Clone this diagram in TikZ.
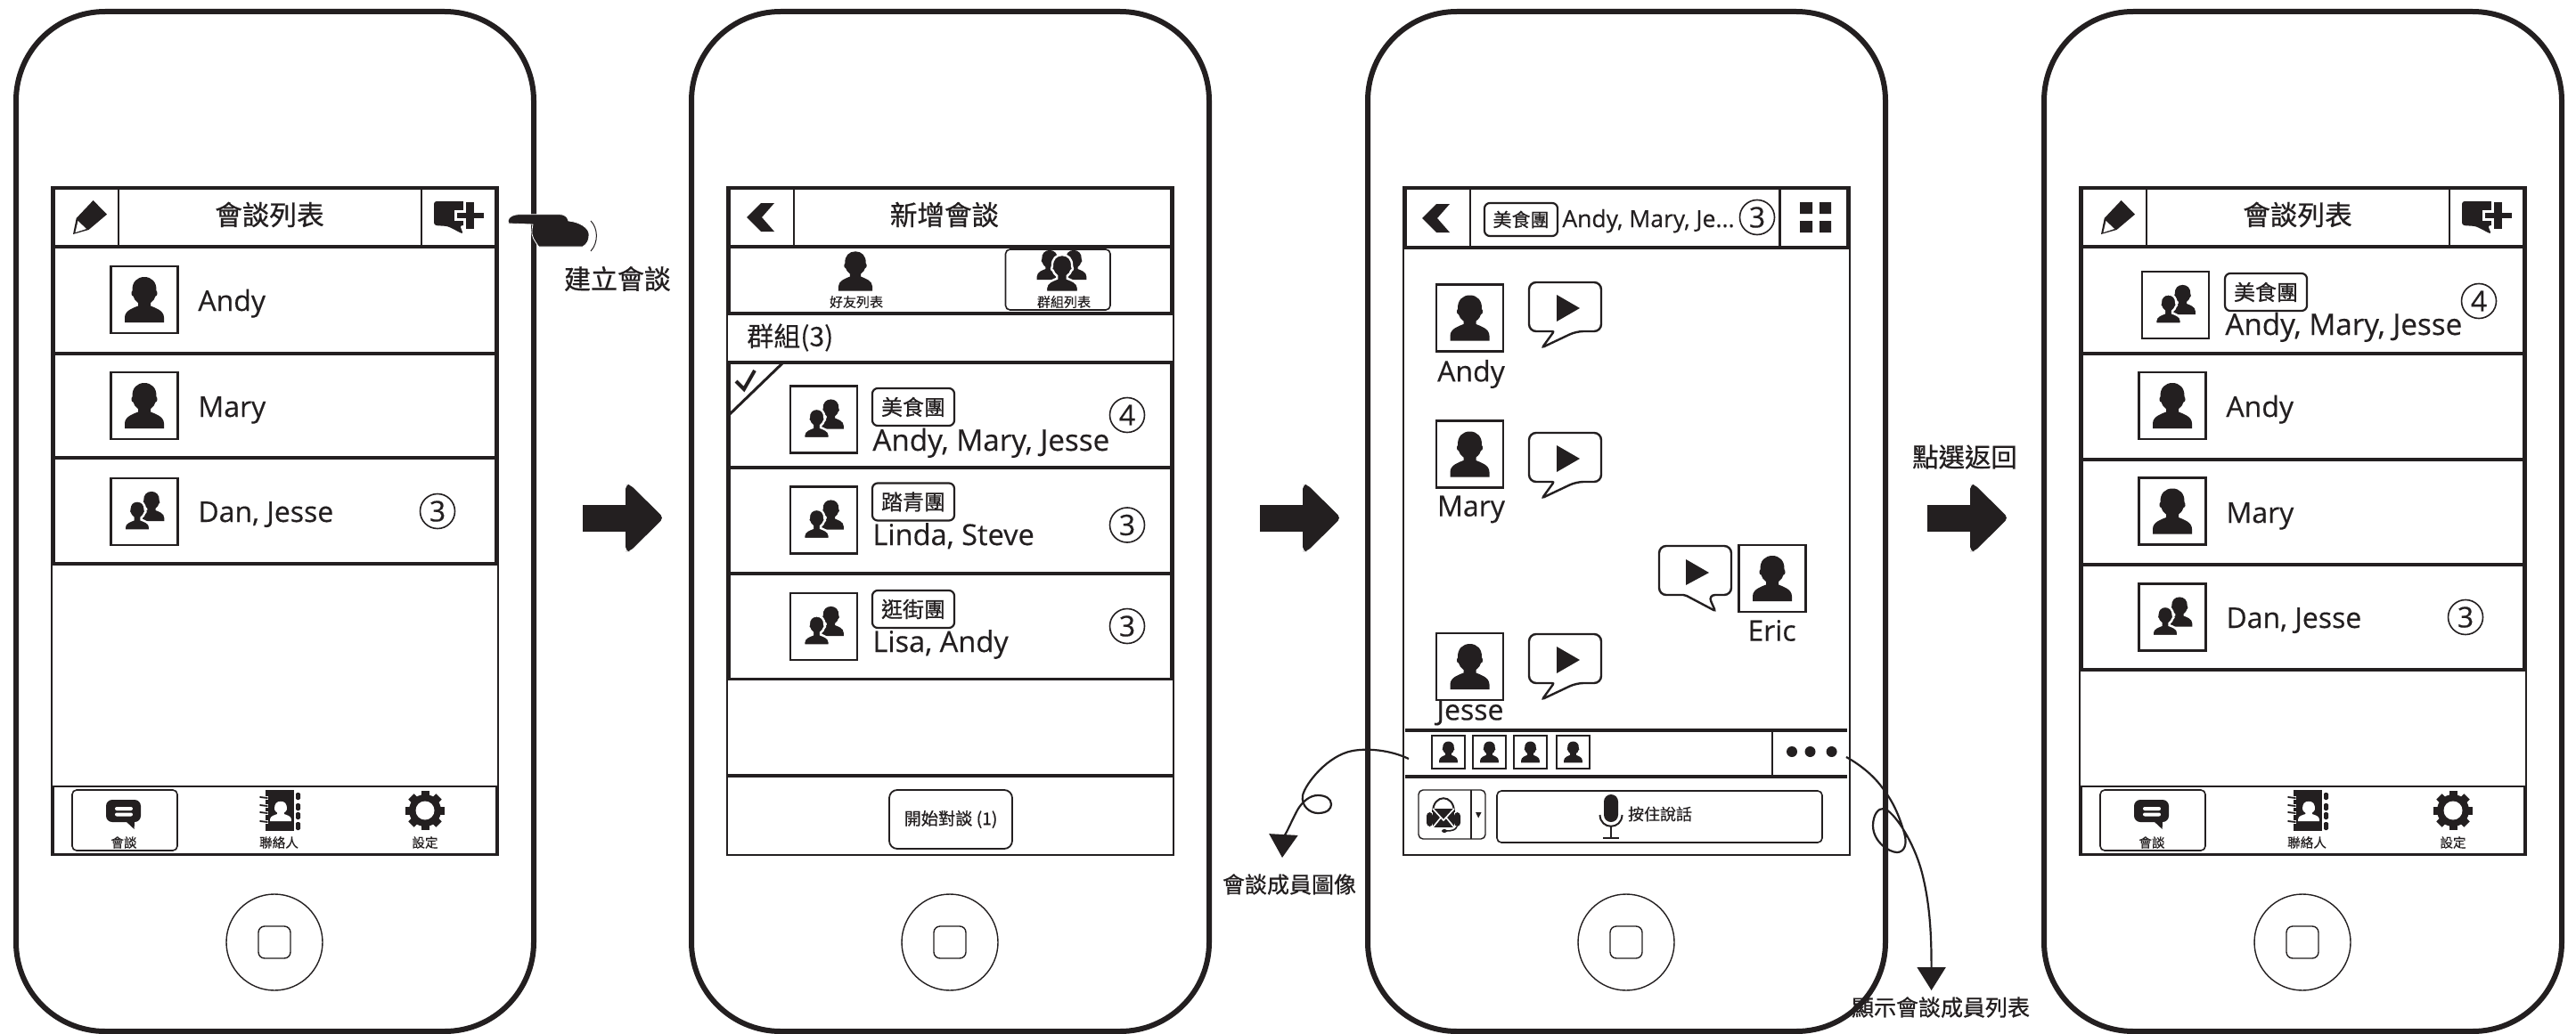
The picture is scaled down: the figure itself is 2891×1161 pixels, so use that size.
\documentclass[tikz,border=0pt]{standalone}
\usepackage{fontspec}
\setmainfont[FakeBold=0.35]{Open Sans}
\newfontfamily\cjk[FakeBold=0.8]{Noto Sans CJK TC}
\newfontfamily\cjklight[FakeBold=0.2]{Noto Sans CJK TC}
\usetikzlibrary{arrows.meta}
\definecolor{ink}{HTML}{231F20}
\tikzset{
  phonebody/.style={draw=ink,line width=3pt,rounded corners=50pt},
  thinline/.style={draw=ink,line width=.7pt},
  heavy/.style={draw=ink,line width=1.7pt},
  midline/.style={draw=ink,line width=1.1pt},
  avatarbox/.style={draw=ink,line width=1.4pt,fill=white,minimum width=37.5pt,minimum height=37.5pt,inner sep=0pt},
  smallbox/.style={draw=ink,line width=1.3pt,fill=white,minimum width=18.5pt,minimum height=18.5pt,inner sep=0pt},
  tagbox/.style={draw=ink,line width=1.1pt,rounded corners=3pt,minimum width=46pt,minimum height=21pt,inner sep=0pt,font=\cjk\fontsize{12}{12}\selectfont,text=ink},
  tagsmall/.style={tagbox,minimum width=41pt,minimum height=18.5pt,font=\cjk\fontsize{10.5}{10.5}\selectfont},
  pname/.style={font=\fontsize{16}{16}\selectfont,text=ink,inner sep=0pt},
  groupname/.style={font=\fontsize{16.6}{16.6}\selectfont,text=ink,inner sep=0pt,anchor=base west},
  groupshort/.style={groupname,font=\fontsize{16.3}{16.3}\selectfont},
  cnt/.style={draw=ink,line width=.8pt,circle,minimum size=19.5pt,inner sep=0pt,font=\fontsize{16}{16}\selectfont,text=ink},
  ptitle/.style={font=\cjk\fontsize{15.3}{15.3}\selectfont,text=ink,inner sep=0pt},
  tablabel/.style={font=\cjklight\fontsize{7.3}{7.3}\selectfont,text=ink,inner sep=0pt},
  notetext/.style={font=\cjk\fontsize{12.5}{12.5}\selectfont,text=ink,inner sep=0pt},
  callout/.style={draw=ink,line width=1.1pt,-{Triangle[width=16pt,length=13pt]}},
}
\newcommand\person[3]{\begin{scope}[shift={(#1,#2)},scale=#3]
 \fill[ink] (-22,25.5) -- (22,25.5) -- (22,20) .. controls (22,12) and (12,9) .. (7,7) -- (7,3.5) .. controls (10,1) and (12,-1) .. (12.5,-4) .. controls (15,-4) and (15,-9) .. (13.5,-10) .. controls (14,-20) and (8,-25.5) .. (0,-25.5) .. controls (-8,-25.5) and (-14,-20) .. (-13.5,-10) .. controls (-15,-9) and (-15,-4) .. (-12.5,-4) .. controls (-12,-1) and (-10,1) .. (-7,3.5) -- (-7,7) .. controls (-12,9) and (-22,12) .. (-22,20) -- cycle;
\end{scope}}
\newcommand\personhalo[3]{\begin{scope}[shift={(#1,#2)},scale=#3]
 \filldraw[fill=ink,draw=white,line width=1.2pt] (-22,25.5) -- (22,25.5) -- (22,20) .. controls (22,12) and (12,9) .. (7,7) -- (7,3.5) .. controls (10,1) and (12,-1) .. (12.5,-4) .. controls (15,-4) and (15,-9) .. (13.5,-10) .. controls (14,-20) and (8,-25.5) .. (0,-25.5) .. controls (-8,-25.5) and (-14,-20) .. (-13.5,-10) .. controls (-15,-9) and (-15,-4) .. (-12.5,-4) .. controls (-12,-1) and (-10,1) .. (-7,3.5) -- (-7,7) .. controls (-12,9) and (-22,12) .. (-22,20) -- cycle;
\end{scope}}
\newcommand\duo[2]{\begin{scope}[shift={(#1,#2)}]\person{8}{-6}{.65}\personhalo{-8}{4.5}{.65}\end{scope}}
% name, cx, cy
\newcommand\avatar[3]{\node[avatarbox] (#1) at (#2,#3) {};\person{#2}{#3}{1}}
\newcommand\avatarduo[3]{\node[avatarbox] (#1) at (#2,#3) {};\duo{#2}{#3}}
\newcommand\chevron[2]{\fill[ink,shift={(#1,#2)}] (1,-16) -- (16,-16) -- (2,0) -- (16,16) -- (1,16) -- (-15,0) -- cycle;}
\newcommand\bubble[2]{\begin{scope}[shift={(#1,#2)}]
 \draw[midline,fill=white,line width=1.2pt,rounded corners=4pt] (0,0) -- (81,0) -- (81,55) -- (53,55) [rounded corners=1pt] -- (15,73) -- (28,55) [rounded corners=4pt] -- (0,55) -- cycle;
 \fill[ink] (31,14) -- (57,29) -- (31,44) -- cycle;
\end{scope}}
\newcommand\bubbleR[2]{\begin{scope}[shift={(#1,#2)}]
 \draw[midline,fill=white,line width=1.2pt,rounded corners=4pt] (0,0) -- (81,0) -- (81,55) -- (55,55) [rounded corners=1pt] -- (63,73) -- (29,55) [rounded corners=4pt] -- (0,55) -- cycle;
 \fill[ink] (30,15) -- (56,30) -- (30,44) -- cycle;
\end{scope}}
\newcommand\bigarrow[1]{\fill[ink,shift={(#1,0)},rounded corners=2.5pt] (48,544) -- (53,544) -- (91,581.5) -- (53,619) -- (48,619) -- cycle;
 \fill[ink,shift={(#1,0)}] (0,566.5) rectangle (52,597);}
% phone frame: prefix, dx
\newcommand\phoneframe[2]{\begin{scope}[shift={(#2,0)}]
 \draw[phonebody] (18,13) rectangle (599,1158);
 \node[draw=ink,line width=.7pt,circle,minimum size=54pt,inner sep=0pt] (#1home) at (308,1058) {};
 \node[draw=ink,line width=.7pt,rounded corners=3.5pt,minimum width=18pt,minimum height=18pt,inner sep=0pt] (#1homekey) at (308,1058) {};
 \draw[thinline] (58,210) rectangle (559,960);
\end{scope}}
\newcommand\pencilicon{\fill[ink] (82,263) -- (85.7,245) -- (104.6,225) -- (120,240.7) -- (99.5,258) -- cycle;
 \fill[white] (87.5,248) -- (97,257) -- (84.5,261) -- cycle;}
\newcommand\chatplus{\fill[ink,rounded corners=1.5pt] (487,226) -- (524,226) -- (524,253) -- (516,253) -- (520,263) -- (502.5,254) -- (487,253) -- cycle;
 \fill[white] (510,236) rectangle (546,248);
 \fill[white] (520,224) rectangle (535,260);
 \fill[ink] (523,227) rectangle (532,257);
 \fill[ink] (513,239) rectangle (543,245);}
\newcommand\tabbar[1]{
 \draw[heavy,line width=1.4pt] (60,883) rectangle (557,959);
 \draw[thinline,line width=.8pt,rounded corners=2.5pt] (81,887) rectangle (199,955);
 \fill[ink,rounded corners=3.5pt] (119,898) rectangle (158,923);
 \fill[ink] (140,921) -- (151,922) -- (150.6,931) -- cycle;
 \fill[white,rounded corners=1pt] (129,906) rectangle (149,910);
 \fill[white,rounded corners=1pt] (129,912.5) rectangle (149,916.5);
 \node[tablabel] (#1talk) at (139,946) {會談};
 \fill[ink] (298,887) rectangle (330,933);
 \foreach \yy/\hh in {890/8,902/8,912/8,923/9}{\fill[ink,rounded corners=.7pt] (332,\yy) rectangle (337,\yy+\hh);}
 \foreach \yy in {896,905,913,923}{\draw[white,line width=1.8pt] (297,\yy) -- (301,\yy);
   \draw[ink,line width=.9pt,line cap=round] (292,\yy-1) -- (300,\yy);}
 \begin{scope}[shift={(315,911)},xscale=.54,yscale=.44]\fill[white] (-22,25.5) -- (22,25.5) -- (22,20) .. controls (22,12) and (12,9) .. (7,7) -- (7,3.5) .. controls (10,1) and (12,-1) .. (12.5,-4) .. controls (14,-20) and (8,-25.5) .. (0,-25.5) .. controls (-8,-25.5) and (-14,-20) .. (-12.5,-4) .. controls (-12,-1) and (-10,1) .. (-7,3.5) -- (-7,7) .. controls (-12,9) and (-22,12) .. (-22,20) -- cycle;\end{scope}
 \node[tablabel] (#1contacts) at (313,946) {聯絡人};
 \foreach \aa in {0,45,...,315}{\fill[ink,shift={(477,910)},rotate=\aa] (-4.5,-22) rectangle (4.5,-12);}
 \fill[ink] (477,910) circle[radius=18];
 \fill[white] (477,910) circle[radius=10.5];
 \node[tablabel] (#1settings) at (477,946) {設定};
}
\newcommand\listhead[1]{
 \draw[heavy] (60,211) rectangle (557,277);
 \draw[midline] (133,211) -- (133,277) (473,211) -- (473,277);
 \pencilicon \chatplus
 \node[ptitle] (#1title) at (302.5,241) {會談列表};
}
\begin{document}
\begin{tikzpicture}[x=0.5pt,y=-0.5pt,line join=miter]
\useasboundingbox (0,0) rectangle (2891,1161);
\fill[white] (0,0) rectangle (2891,1161);
%% phone 1
\phoneframe{a}{0}
\listhead{a}
\draw[heavy] (60,277) rectangle (557,633);
\draw[heavy] (60,397) -- (557,397) (60,514) -- (557,514);
\avatar{aav1}{162}{336.5}
\node[pname,anchor=base west] (aandy) at (222,349) {Andy};
\avatar{aav2}{162}{455.5}
\node[pname,anchor=base west] (amary) at (222,468) {Mary};
\avatarduo{aav3}{162}{574.5}
\node[pname,anchor=base west] (adan) at (222,586) {Dan, Jesse};
\node[cnt] (acnt) at (491,574) {3};
\tabbar{a}
%% hand
\fill[ink,draw=white,line width=.4pt] (570,248) .. controls (571,243) and (576,241) .. (582,240.7) -- (628,240.7) .. controls (636,241) and (637,245) .. (638,248) .. controls (650,249) and (662,256) .. (661,264) .. controls (661,270) and (659,274) .. (654,277) -- (604.6,277) .. controls (600,270) and (596,266) .. (597,258) -- (598,252) -- (571,251) -- cycle;
\draw[ink,line width=.5pt] (663,248) .. controls (671,256) and (672,272) .. (663,282);
\node[notetext,font=\cjk\fontsize{15}{15}\selectfont] (build) at (693,313) {建立會談};
\bigarrow{654}
%% phone 2
\phoneframe{b}{758}
\begin{scope}[shift={(758,0)}]
\draw[heavy] (60,211) rectangle (557,352);
\draw[heavy] (60,277) -- (557,277);
\draw[midline] (133,211) -- (133,277);
\chevron{95}{244}
\node[ptitle] (btitle) at (302,241) {新增會談};
\person{202}{304.5}{.87}
\node[tablabel,font=\cjklight\fontsize{7.5}{7.5}\selectfont] (bfriends) at (203,339) {好友列表};
\draw[thinline,line width=.8pt,rounded corners=2.5pt] (370.5,280) rectangle (488,348);
\person{420}{297.5}{.65}\person{447}{297.5}{.65}
\personhalo{434}{307}{.82}
\node[tablabel,font=\cjklight\fontsize{7.5}{7.5}\selectfont] (bgroups) at (436,339) {群組列表};
\node[notetext,anchor=west,font=\cjklight\fontsize{15}{15}\selectfont] (bcount) at (80,379) {群組(3)};
\draw[heavy] (60,407) rectangle (557,762.5);
\draw[heavy] (60,525) -- (557,525) (60,644) -- (557,644);
\draw[midline,line width=1.5pt] (61,465) -- (120,408);
\draw[ink,line width=2pt] (68,428) -- (77,437) -- (89,416);
\avatarduo{bav1}{166.5}{471}
\node[tagbox] (btag1) at (267,457) {美食團};
\node[groupname] (bn1) at (221,506) {Andy, Mary, Jesse};
\node[cnt] (bc1) at (507,466) {4};
\avatarduo{bav2}{166.5}{584}
\node[tagbox] (btag2) at (267,563.5) {踏青團};
\node[groupshort] (bn2) at (221,612) {Linda, Steve};
\node[cnt] (bc2) at (507,589.5) {3};
\avatarduo{bav3}{166.5}{703.5}
\node[tagbox] (btag3) at (267,684) {逛街團};
\node[groupshort] (bn3) at (221,732) {Lisa, Andy};
\node[cnt] (bc3) at (507,703) {3};
\draw[heavy,line width=2pt] (58,871) -- (559,871);
\node[draw=ink,line width=.9pt,rounded corners=4.5pt,minimum width=69pt,minimum height=33pt,inner sep=0pt,font=\cjk\fontsize{9.6}{9.6}\selectfont,text=ink] (bstart) at (309,920) {開始對談 (1)};
\end{scope}
\bigarrow{1414}
%% phone 3
\phoneframe{c}{1517}
\draw[heavy] (1577,211) rectangle (2074,278);
\draw[midline] (1650,211) -- (1650,278) (1997.5,211) -- (1997.5,278);
\chevron{1611}{245}
\node[tagsmall] (ctag) at (1707,246.5) {美食團};
\node[font=\fontsize{13.25}{13.25}\selectfont,text=ink,inner sep=0pt,anchor=base west] (chead) at (1753,255) {Andy, Mary, Je...};
\node[cnt] (ccnt) at (1972,244) {3};
\fill[ink] (2020,227) rectangle (2034,240) (2042,227) rectangle (2055,240) (2020,248) rectangle (2034,261) (2042,248) rectangle (2055,261);
\avatar{cav1}{1649.5}{357}
\node[pname] (cn1) at (1651,420) {Andy};
\bubble{1716}{317}
\avatar{cav2}{1649.5}{510}
\node[pname] (cn2) at (1651,572) {Mary};
\bubble{1716}{486}
\bubbleR{1862}{613}
\avatar{cav3}{1989}{649.5}
\node[pname] (cn3) at (1988.5,708) {Eric};
\bubble{1716}{712}
\avatar{cav4}{1649.5}{748.5}
\node[pname] (cn4) at (1650,800) {Jesse};
\draw[ink,line width=2pt] (1577,820) -- (2073,820) (1577,872) -- (2073,872);
\draw[midline] (1989,820) -- (1989,872);
\foreach \nm/\xx in {s1/1625.5,s2/1671.5,s3/1717.5,s4/1765.5}{\node[smallbox] (\nm) at (\xx,844.5) {};\person{\xx}{844.5}{.47}}
\foreach \xx in {2011,2031.5,2055.6}{\fill[ink] (\xx,844) circle[radius=6];}
% mail button
\draw[thinline,line width=.7pt,rounded corners=2.5pt] (1592,887) rectangle (1667,942);
\draw[thinline] (1651,887) -- (1651,942);
\fill[ink] (1656,912) -- (1662.5,912) -- (1659.2,918.5) -- cycle;
\draw[ink,line width=1pt] (1608,912) .. controls (1608,891) and (1632,891) .. (1632,912);
\fill[ink,rounded corners=2pt] (1601,912) rectangle (1608,928) (1632,912) rectangle (1639,928);
\fill[ink] (1608,908) rectangle (1632,929);
\draw[white,line width=.8pt] (1608,908) -- (1620,921) -- (1632,908) (1608,929) -- (1617,918) (1632,929) -- (1623,918);
\draw[ink,line width=.8pt] (1635,928) .. controls (1634,932) and (1629,933) .. (1623,933);
\fill[ink] (1621,933) ellipse[x radius=3,y radius=2];
% talk button
\draw[thinline,line width=.8pt,rounded corners=2.5pt] (1680,888) rectangle (2045,946);
\fill[ink,rounded corners=4pt] (1800,892) rectangle (1816,923);
\draw[ink,line width=1pt] (1795.5,915) .. controls (1796,932) and (1820,932) .. (1820.5,915);
\draw[ink,line width=1.2pt] (1808,928) -- (1808,941) (1799,941) -- (1817,941);
\node[font=\cjklight\fontsize{9}{9}\selectfont,text=ink,inner sep=0pt] (ctalk) at (1863,914) {按住說話};
% connectors
\coordinate (stripStart) at (1581,852);
\coordinate (stripTip) at (1439,963);
\coordinate (dotsStart) at (2072,850);
\coordinate (dotsTip) at (2167.6,1112);
\draw[callout] (stripStart) .. controls (1560,842) and (1535,840) .. (1518,843) .. controls (1490,848) and (1465,880) .. (1462,893) .. controls (1460,905) and (1470,913) .. (1479,913) .. controls (1490,913) and (1494,908) .. (1494,903) .. controls (1494,897) and (1488,893) .. (1479,893) .. controls (1470,893) and (1462,900) .. (1457,908) .. controls (1450,920) and (1440,945) .. (stripTip);
\draw[callout] (dotsStart) .. controls (2090,860) and (2105,873) .. (2115,888) .. controls (2128,905) and (2134,925) .. (2137,935) .. controls (2141,948) and (2137,957) .. (2129,957) .. controls (2120,957) and (2102,945) .. (2102,927) .. controls (2102,915) and (2108,907) .. (2114,908) .. controls (2125,910) and (2148,945) .. (2157,980) .. controls (2166,1015) and (2167.6,1050) .. (dotsTip);
\node[notetext] (stripLabel) at (1447,993) {會談成員圖像};
\node[notetext] (dotsLabel) at (2178,1131) {顯示會談成員列表};
\bigarrow{2163}
\node[notetext,font=\cjk\fontsize{14.7}{14.7}\selectfont] (backLabel) at (2205,513) {點選返回};
%% phone 4
\phoneframe{d}{2276}
\begin{scope}[shift={(2276,0)}]
\listhead{d}
\draw[heavy] (60,277) rectangle (557,752);
\draw[heavy] (60,397) -- (557,397) (60,516) -- (557,516) (60,634) -- (557,634);
\avatarduo{dav0}{165.5}{342.5}
\node[tagbox] (dtag) at (267,328) {美食團};
\node[groupname] (dn0) at (221,376) {Andy, Mary, Jesse};
\node[cnt] (dc0) at (506,338) {4};
\avatar{dav1}{162}{455.5}
\node[pname,anchor=base west] (dandy) at (222,468) {Andy};
\avatar{dav2}{162}{574}
\node[pname,anchor=base west] (dmary) at (222,587) {Mary};
\avatarduo{dav3}{162}{693}
\node[pname,anchor=base west] (ddan) at (222,705) {Dan, Jesse};
\node[cnt] (dcnt) at (491,693) {3};
\tabbar{d}
\end{scope}
\end{tikzpicture}
\end{document}
